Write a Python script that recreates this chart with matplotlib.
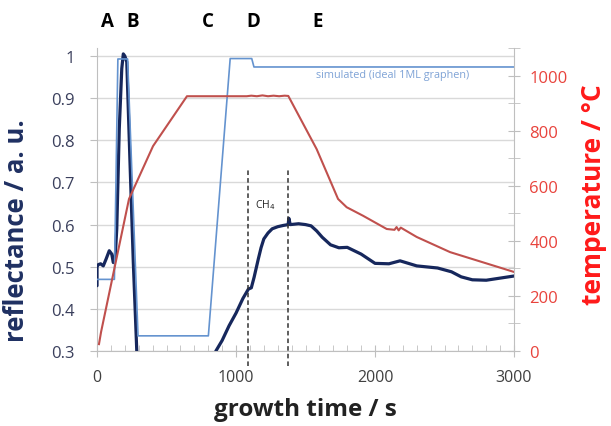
import matplotlib
matplotlib.use("Agg")
import matplotlib.pyplot as plt
from matplotlib.ticker import MultipleLocator

plt.rcParams['font.family'] = ['Open Sans', 'DejaVu Sans']

# measured reflectance (two visible pieces, the middle part drops below 0.3)
meas_t1 = [0, 0, 9, 26, 45, 65, 88, 106, 117, 130, 142, 160, 178, 189, 200, 214, 237, 261, 286, 300]
meas_r1 = [0.455, 0.50, 0.505, 0.507, 0.502, 0.518, 0.538, 0.53, 0.51, 0.518, 0.59, 0.827, 0.97,
           1.005, 1.0, 0.986, 0.75, 0.51, 0.30, 0.22]
meas_t2 = [830, 855, 900, 950, 1000, 1050, 1089, 1110, 1130, 1160, 1180, 1200, 1230, 1260,
           1300, 1340, 1375, 1380, 1390, 1450, 1500, 1540, 1580, 1620, 1680, 1740, 1800,
           1900, 2000, 2100, 2180, 2300, 2450, 2550, 2620, 2700, 2800, 2900, 3000]
meas_r2 = [0.25, 0.30, 0.325, 0.36, 0.39, 0.425, 0.447, 0.45, 0.475, 0.518, 0.545, 0.566,
           0.58, 0.59, 0.595, 0.598, 0.60, 0.615, 0.60, 0.602, 0.60, 0.597, 0.585, 0.57,
           0.552, 0.545, 0.546, 0.53, 0.508, 0.507, 0.514, 0.502, 0.497, 0.488, 0.476,
           0.469, 0.468, 0.473, 0.478]

# simulated reflectance (ideal 1 ML graphene)
sim_t = [0, 125, 150, 220, 295, 801, 958, 1113, 1129, 3000]
sim_r = [0.47, 0.47, 0.993, 0.993, 0.336, 0.336, 0.994, 0.994, 0.974, 0.974]

# temperature
temp_t = [14, 29, 230, 403, 647, 1077, 1110, 1150, 1190, 1230, 1270, 1310, 1350, 1376,
          1580, 1734, 1796, 1914, 2084, 2140, 2155, 2170, 2185, 2300, 2540, 3000]
temp_c = [25, 69, 552, 744, 925, 925, 927, 925, 928, 925, 927, 925, 927, 926,
          733, 552, 522, 491, 443, 440, 450, 438, 448, 414, 359, 287]

letters = ['A', 'B', 'C', 'D', 'E']
letter_t = [72, 259, 799, 1122, 1583]
ch4_lines = [1089, 1376]

navy = '#16275c'
lightblue = '#6493cf'
red_line = '#c0504d'
grid_c = '#d9d9d9'
axis_c = '#bfbfbf'

fig = plt.figure(figsize=(6.11, 4.27), dpi=100)
ax = fig.add_axes([0.1588, 0.1756, 0.6825, 0.7096])
ax2 = ax.twinx()

ax.set_xlim(0, 3000)
ax.set_ylim(0.3, 1.019)
ax2.set_ylim(0, 1100)

for y in [0.3, 0.4, 0.5, 0.6, 0.7, 0.8, 0.9, 1.0]:
    ax.axhline(y, color=grid_c, lw=1.0, zorder=0)

ax.plot(meas_t1, meas_r1, color=navy, lw=2.3, zorder=3, solid_capstyle='round',
        solid_joinstyle='round')
ax.plot(meas_t2, meas_r2, color=navy, lw=2.3, zorder=3, solid_capstyle='round',
        solid_joinstyle='round')
ax.plot(sim_t, sim_r, color=lightblue, lw=1.2, zorder=4)
ax2.plot(temp_t, temp_c, color=red_line, lw=1.5, zorder=2)

for t in ch4_lines:
    ax.plot([t, t], [0.265, 0.732], color='#333333', lw=1.1, ls=(0, (3, 2)),
            clip_on=False, zorder=5)
ax.text(1209, 0.649, 'CH$_4$', fontsize=7.5, color='#222222', ha='center', va='center')
ax.text(2130, 0.957, 'simulated (ideal 1ML graphen)', fontsize=7.8, color='#7fa3d6',
        ha='center', va='center')

for lab, t in zip(letters, letter_t):
    ax.text(t, 1.083, lab, fontsize=13.5, fontweight='bold', color='black',
            ha='center', va='center')

# axes styling, excel-ish
for a in (ax, ax2):
    a.spines['top'].set_visible(False)
    a.spines['left'].set_color(axis_c)
    a.spines['right'].set_color(axis_c)
    a.spines['bottom'].set_color(axis_c)
ax.spines['right'].set_visible(False)
ax2.spines['left'].set_visible(False)
ax2.spines['bottom'].set_visible(False)

ax.set_xticks([0, 1000, 2000, 3000])
ax.xaxis.set_minor_locator(MultipleLocator(100))
ax.tick_params(axis='x', which='major', direction='inout', length=8, color=axis_c,
               labelsize=11.5, labelcolor='#404040', pad=9)
ax.tick_params(axis='x', which='minor', direction='in', length=4, color=axis_c)

ax.set_yticks([0.3, 0.4, 0.5, 0.6, 0.7, 0.8, 0.9, 1.0])
ax.set_yticklabels(['0.3', '0.4', '0.5', '0.6', '0.7', '0.8', '0.9', '1'])
ax.tick_params(axis='y', which='major', direction='out', length=5, color=axis_c,
               labelsize=12, labelcolor='#3a3f5c', pad=11)

ax2.set_yticks([0, 200, 400, 600, 800, 1000])
ax2.yaxis.set_minor_locator(MultipleLocator(200, offset=100))
ax2.tick_params(axis='y', which='major', direction='inout', length=8, color=axis_c,
                labelsize=12, labelcolor='#e8433c', pad=7)
ax2.tick_params(axis='y', which='minor', direction='inout', length=8, color=axis_c)

ax.set_xlabel('growth time / s', fontsize=17.5, fontweight='bold', color='#222222')
ax.xaxis.set_label_coords(0.5, -0.152)
ax.set_ylabel('reflectance / a. u.', fontsize=18.5, fontweight='bold', color='#1f3062')
ax.yaxis.set_label_coords(-0.16, 0.40)
ax2.set_ylabel('temperature / °C', fontsize=19, fontweight='bold', color='#ff1a1a')
ax2.yaxis.set_label_coords(1.158, 0.52)

fig.savefig('out.png', dpi=100)
